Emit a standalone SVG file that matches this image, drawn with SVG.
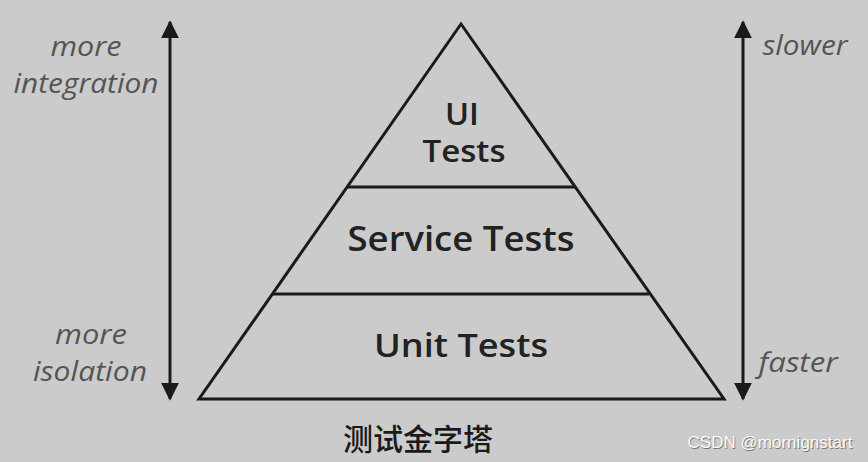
<svg xmlns="http://www.w3.org/2000/svg" width="868" height="462" viewBox="0 0 868 462">
<defs>
<style>
.side{font-family:"Open Sans","Noto Sans",sans-serif;font-style:italic;font-size:27px;fill:#555;text-anchor:middle}
.lbl{font-family:"Open Sans","Noto Sans",sans-serif;font-weight:600;fill:#222;text-anchor:middle}
.ln{stroke:#1a1a1a;stroke-width:3;fill:none}
.wm{font-family:"Liberation Sans",Arial,sans-serif;font-size:17px;text-anchor:middle}
</style>
<marker id="ah" viewBox="0 0 10 10" refX="9" refY="5" markerWidth="6" markerHeight="7" markerUnits="strokeWidth" orient="auto-start-reverse">
<path d="M0,0 L10,5 L0,10 Z" fill="#1a1a1a"/>
</marker>
</defs>
<rect width="868" height="462" fill="#cbcbcb"/>
<g id="pyramid">
<polygon class="ln" points="461,24 199,399 724,399" stroke-linejoin="miter"/>
</g>
<g id="connectors">
<line class="ln" x1="347" y1="187" x2="575" y2="187"/>
<line class="ln" x1="273" y1="294" x2="649" y2="294"/>
<line class="ln" x1="170" y1="22" x2="170" y2="399" marker-start="url(#ah)" marker-end="url(#ah)"/>
<line class="ln" x1="743" y1="22" x2="743" y2="399" marker-start="url(#ah)" marker-end="url(#ah)"/>
</g>
<g id="ui">
<text class="lbl" x="462" y="125" font-size="30" textLength="34" lengthAdjust="spacingAndGlyphs">UI</text>
<text class="lbl" x="464" y="162" font-size="30" textLength="83" lengthAdjust="spacingAndGlyphs">Tests</text>
</g>
<g id="service">
<text class="lbl" x="461" y="251" font-size="34" textLength="227" lengthAdjust="spacingAndGlyphs">Service Tests</text>
</g>
<g id="unit">
<text class="lbl" x="461" y="357" font-size="32" textLength="174" lengthAdjust="spacingAndGlyphs">Unit Tests</text>
</g>
<g id="left-labels">
<text class="side" x="86" y="56" textLength="71" lengthAdjust="spacingAndGlyphs">more</text>
<text class="side" x="86" y="93" textLength="145" lengthAdjust="spacingAndGlyphs">integration</text>
<text class="side" x="91" y="344" textLength="72" lengthAdjust="spacingAndGlyphs">more</text>
<text class="side" x="90" y="381" textLength="114" lengthAdjust="spacingAndGlyphs">isolation</text>
</g>
<g id="right-labels">
<text class="side" x="805" y="55" textLength="85" lengthAdjust="spacingAndGlyphs">slower</text>
<text class="side" x="798" y="372" textLength="79" lengthAdjust="spacingAndGlyphs">faster</text>
</g>
<g id="title">
<text x="418" y="450" style="font-family:'Noto Sans CJK SC',sans-serif;font-weight:500;font-size:30px;fill:#1a1a1a;text-anchor:middle">测试金字塔</text>
</g>
<g id="watermark">
<text class="wm" x="770.8" y="448.8" textLength="165" lengthAdjust="spacing" fill="#777">CSDN @mornignstart</text>
<text class="wm" x="770" y="448" textLength="165" lengthAdjust="spacing" fill="#fafafa">CSDN @mornignstart</text>
</g>
</svg>
